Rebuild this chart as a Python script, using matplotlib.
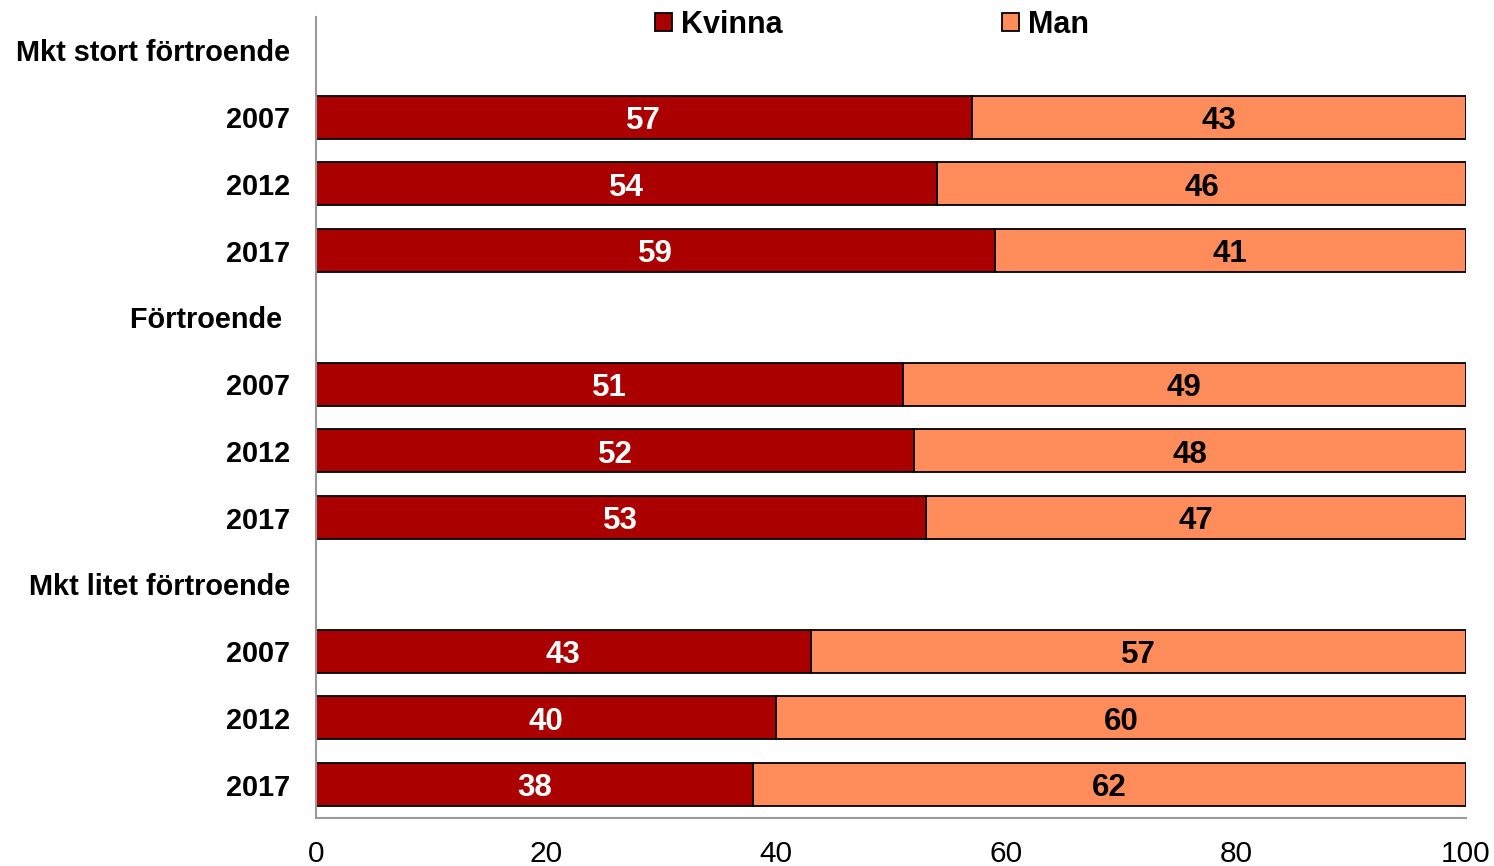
import matplotlib
matplotlib.use("Agg")
import matplotlib.pyplot as plt
import numpy as np

plt.rcParams['font.family'] = ['Liberation Sans', 'DejaVu Sans']

row_labels = ["Mkt stort förtroende", "2007", "2012", "2017",
              "Förtroende ", "2007", "2012", "2017",
              "Mkt litet förtroende", "2007", "2012", "2017"]
# None marks header rows without bars
kvinna = [None, 57, 54, 59, None, 51, 52, 53, None, 43, 40, 38]
man = [None, 43, 46, 41, None, 49, 48, 47, None, 57, 60, 62]
series_names = ["Kvinna", "Man"]
colors = ["#AA0000", "#FF8C5A"]
xticks = [0, 20, 40, 60, 80, 100]

fig = plt.figure(figsize=(14.94, 8.66), dpi=100)
ax = fig.add_axes([0.2115, 0.0554, 0.9813 - 0.2115, 0.9804 - 0.0554])

n = len(row_labels)
ypos = np.arange(n)
bar_idx = [i for i in range(n) if kvinna[i] is not None]
yb = [ypos[i] for i in bar_idx]
kv = np.array([kvinna[i] for i in bar_idx], dtype=float)
mv = np.array([man[i] for i in bar_idx], dtype=float)

h = 0.645
ax.barh(yb, kv, height=h, color=colors[0], edgecolor="black", linewidth=1.3, label=series_names[0])
ax.barh(yb, mv, left=kv, height=h, color=colors[1], edgecolor="black", linewidth=1.3, label=series_names[1])

for y, k, m in zip(yb, kv, mv):
    ax.annotate(f"{int(k)}", (k / 2, y), xytext=(0, -8.5), textcoords="offset points",
                ha="center", va="baseline", color="white", fontsize=22.5, fontweight="bold")
    ax.annotate(f"{int(m)}", (k + m / 2, y), xytext=(0, -8.5), textcoords="offset points",
                ha="center", va="baseline", color="black", fontsize=22.5, fontweight="bold")

ax.set_ylim(n - 0.5, -0.5)
ax.set_xlim(0, 100)
ax.set_yticks(ypos)
ax.set_yticklabels(row_labels, fontsize=20.8, fontweight="bold")
ax.set_xticks(xticks)
ax.set_xticklabels([str(t) for t in xticks], fontsize=21.5)
ax.tick_params(axis="y", length=0, pad=18.5)
ax.tick_params(axis="x", length=0, pad=16)
for s in ["top", "right"]:
    ax.spines[s].set_visible(False)
for s in ["left", "bottom"]:
    ax.spines[s].set_color("#999999")
    ax.spines[s].set_linewidth(1.5)

ax.legend(loc="upper left", bbox_to_anchor=(0.284, 1.024), ncol=2, frameon=False,
          prop={"size": 22, "weight": "bold"}, handlelength=0.55, handleheight=0.55,
          handletextpad=0.3, columnspacing=7.2, borderaxespad=0)

fig.savefig("out.png", dpi=100)
